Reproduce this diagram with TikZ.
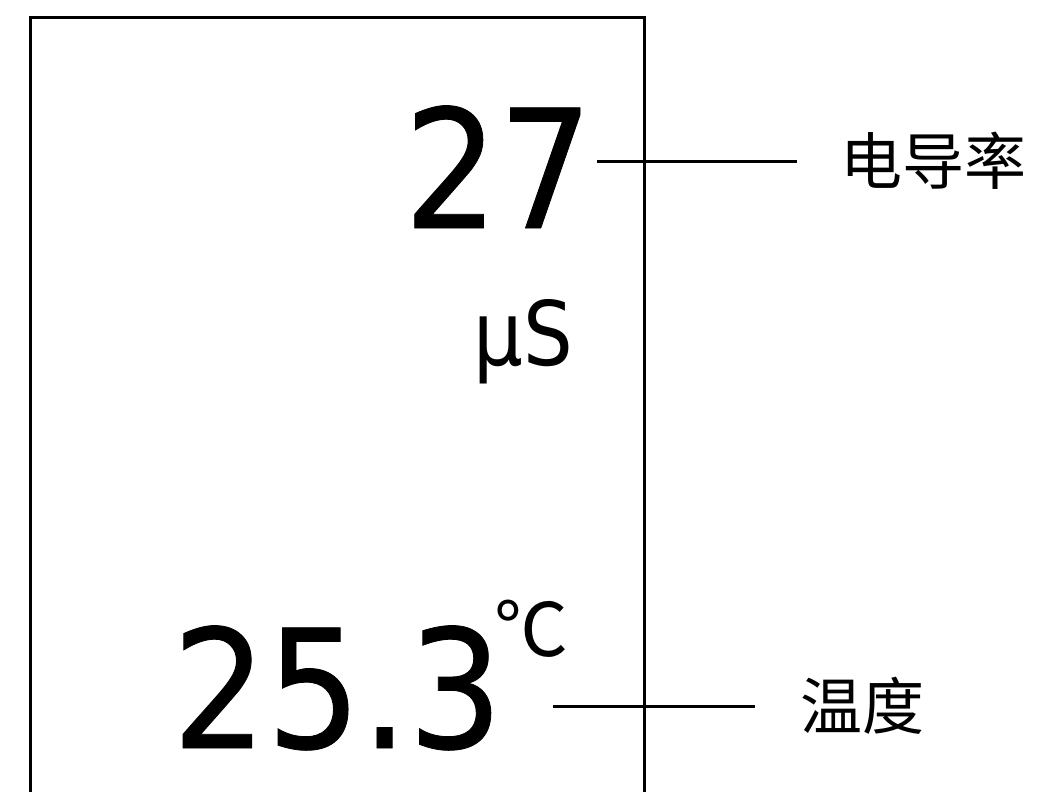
\documentclass[tikz,border=0pt]{standalone}
\usepackage{fontspec}
\newfontfamily\numfont[FakeStretch=0.9,FakeBold=0.5]{DejaVu Sans}
\newfontfamily\unitfont[FakeStretch=0.88]{DejaVu Sans}
\newfontfamily\cjk{Noto Sans CJK SC}
\begin{document}
\begin{tikzpicture}[x=1pt,y=1pt,
  big/.style={inner sep=0pt,font=\numfont\fontsize{165}{165}\selectfont},
  unit/.style={inner sep=0pt,font=\unitfont\fontsize{89}{89}\selectfont},
  lab/.style={inner sep=0pt,font=\cjk\fontsize{62}{62}\selectfont},
  lead/.style={line width=3pt,black}]
\useasboundingbox (0,0) rectangle (1039,-792);
\clip (0,0) rectangle (1039,-792);
\draw[line width=3pt] (30,-800) -- (30,-18) -- (644,-18) -- (644,-800);
\node[big,anchor=base east] (n27) at (593,-228) {27};
\node[unit,anchor=base east] (us) at (573,-365) {μS};
\node[big,anchor=base east] (n253) at (503,-748) {25.3};
\node[inner sep=0pt,anchor=north west,font=\cjk\fontsize{74}{74}\selectfont] (deg) at (494,-600) {℃};
\node[lab,anchor=west] (cond) at (840,-161) {电导率};
\node[lab,anchor=west] (temp) at (800,-706) {温度};
\draw[lead] ([xshift=4pt]n27.east |- cond.west) -- ([xshift=-43pt]cond.west);
\draw[lead] ([xshift=50pt]n253.east |- temp.west) -- ([xshift=-45pt]temp.west);
\end{tikzpicture}
\end{document}
